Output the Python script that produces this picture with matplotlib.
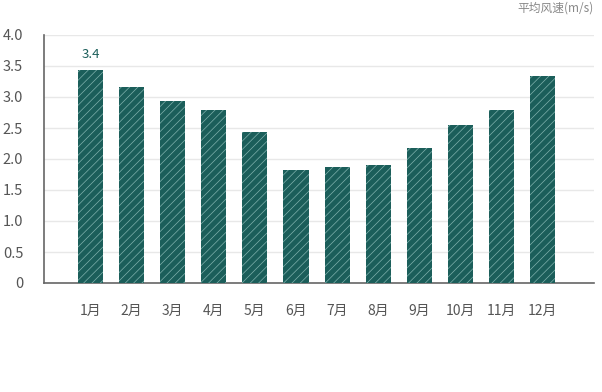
import matplotlib
matplotlib.use("Agg")
import matplotlib.pyplot as plt
import numpy as np

plt.rcParams['font.family'] = ['Noto Sans CJK SC', 'DejaVu Sans']
plt.rcParams['hatch.linewidth'] = 0.5
plt.rcParams['hatch.color'] = '#80b2ad'

months = ['1月', '2月', '3月', '4月', '5月', '6月',
          '7月', '8月', '9月', '10月', '11月', '12月']
wind = [3.44, 3.16, 2.94, 2.79, 2.44, 1.82, 1.87, 1.90, 2.18, 2.55, 2.79, 3.34]
yticks = [0, 0.5, 1.0, 1.5, 2.0, 2.5, 3.0, 3.5, 4.0]
ylabels = ['0', '0.5', '1.0', '1.5', '2.0', '2.5', '3.0', '3.5', '4.0']

bar_color = '#1b5e5a'
text_grey = '#555555'

fig = plt.figure(figsize=(6.02, 3.92), dpi=100)
ax = fig.add_axes([44 / 602, 109 / 392, 550 / 602, 248 / 392])

x = np.arange(len(months))
ax.bar(x, wind, width=0.61, color=bar_color, hatch='////', edgecolor='#80b2ad',
       linewidth=0, zorder=3)

# label only the highest month
imax = int(np.argmax(wind))
ax.text(x[imax], wind[imax] + 0.14, f'{wind[imax]:.1f}', ha='center', va='bottom',
        color=bar_color, fontsize=9.5)

ax.set_xlim(-1.13, 12.25)
ax.set_ylim(0, 4.0)
ax.set_yticks(yticks)
ax.set_yticklabels(ylabels, fontsize=10.5, color=text_grey)
ax.set_xticks(x)
ax.set_xticklabels(months, fontsize=10, color=text_grey)
ax.tick_params(axis='both', length=0)
ax.tick_params(axis='x', pad=15)
ax.tick_params(axis='y', pad=15)

ax.grid(axis='y', color='#e8e8e8', linewidth=1, zorder=0)
for side in ['top', 'right']:
    ax.spines[side].set_visible(False)
ax.spines['left'].set_color('#666666')
ax.spines['bottom'].set_color('#666666')
ax.spines['left'].set_linewidth(1.2)
ax.spines['bottom'].set_linewidth(1.2)

fig.text(594 / 602, 1 - 8 / 392, '平均风速(m/s)', ha='right', va='center',
         fontsize=8.5, color='#888888')

fig.savefig('out.png', dpi=100)
